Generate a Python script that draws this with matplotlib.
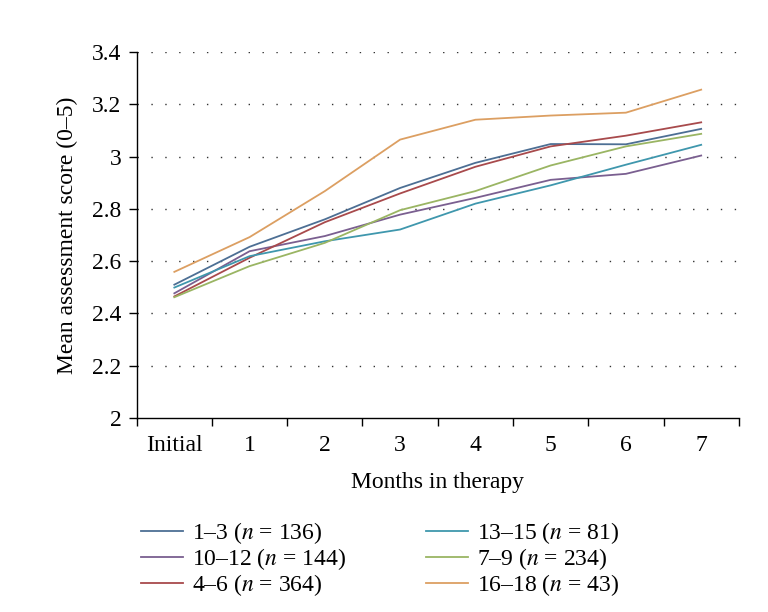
import numpy as np
import matplotlib
matplotlib.use("Agg")
import matplotlib.pyplot as plt

plt.rcParams['font.family'] = ['Liberation Serif', 'DejaVu Serif']
plt.rcParams['mathtext.fontset'] = 'stix'

months = ["Initial", "1", "2", "3", "4", "5", "6", "7"]

# mean assessment score per group
g1_3 = [2.51, 2.655, 2.76, 2.88, 2.976, 3.048, 3.047, 3.106]
g10_12 = [2.477, 2.638, 2.696, 2.778, 2.842, 2.911, 2.934, 3.004]
g4_6 = [2.465, 2.613, 2.749, 2.859, 2.961, 3.039, 3.08, 3.131]
g13_15 = [2.499, 2.619, 2.676, 2.721, 2.82, 2.89, 2.969, 3.045]
g7_9 = [2.462, 2.581, 2.67, 2.795, 2.868, 2.966, 3.039, 3.087]
g16_18 = [2.559, 2.692, 2.868, 3.065, 3.141, 3.157, 3.168, 3.256]

labels = [r"1–3 ($n$ = 136)", r"10–12 ($n$ = 144)", r"4–6 ($n$ = 364)",
          r"13–15 ($n$ = 81)", r"7–9 ($n$ = 234)", r"16–18 ($n$ = 43)"]
series = [g1_3, g10_12, g4_6, g13_15, g7_9, g16_18]
colors = ["#4d6f94", "#7a5f90", "#a84a4c", "#3f97ad", "#9ab563", "#dc9f62"]

fs = 17

fig = plt.figure(figsize=(7.68, 6.12), dpi=100)
ax = fig.add_axes([0.178, 0.317, 0.784, 0.598])

x = np.arange(len(months))
handles = []
for s, lab, c in zip(series, labels, colors):
    h, = ax.plot(x, s, color=c, lw=1.3, label=lab)
    handles.append(h)

ax.set_xlim(-0.5, len(months) - 0.5)
ax.set_ylim(2, 3.4)
yt = np.arange(2, 3.41, 0.2)
ax.set_yticks(yt)
ax.set_yticklabels(["2", "2.2", "2.4", "2.6", "2.8", "3", "3.2", "3.4"])
for v in yt[1:]:
    ax.axhline(v, color="#333333", lw=1.0, ls=(0, (1, 9)), zorder=0)

ax.set_xticks(x)
ax.set_xticklabels(months)
ax.set_xticks(np.arange(-0.5, len(months), 1), minor=True)
ax.tick_params(axis='x', which='major', length=0, pad=12, labelsize=fs)
ax.tick_params(axis='x', which='minor', length=6, width=1, direction='out')
ax.tick_params(axis='y', length=6, width=1, direction='out', labelsize=fs, pad=5)

ax.spines['top'].set_visible(False)
ax.spines['right'].set_visible(False)
ax.spines['left'].set_linewidth(1)
ax.spines['bottom'].set_linewidth(1)

ax.set_ylabel("Mean assessment score (0–5)", fontsize=fs, labelpad=10)
ax.set_xlabel("Months in therapy", fontsize=fs, labelpad=12)

fig.legend(handles=handles, labels=labels, ncol=2, loc='upper left',
           bbox_to_anchor=(0.184, 0.150), frameon=False, fontsize=fs,
           handlelength=1.75, handletextpad=0.4, columnspacing=3.4,
           labelspacing=0.0, borderaxespad=0, borderpad=0)

fig.savefig("out.png", dpi=100)
